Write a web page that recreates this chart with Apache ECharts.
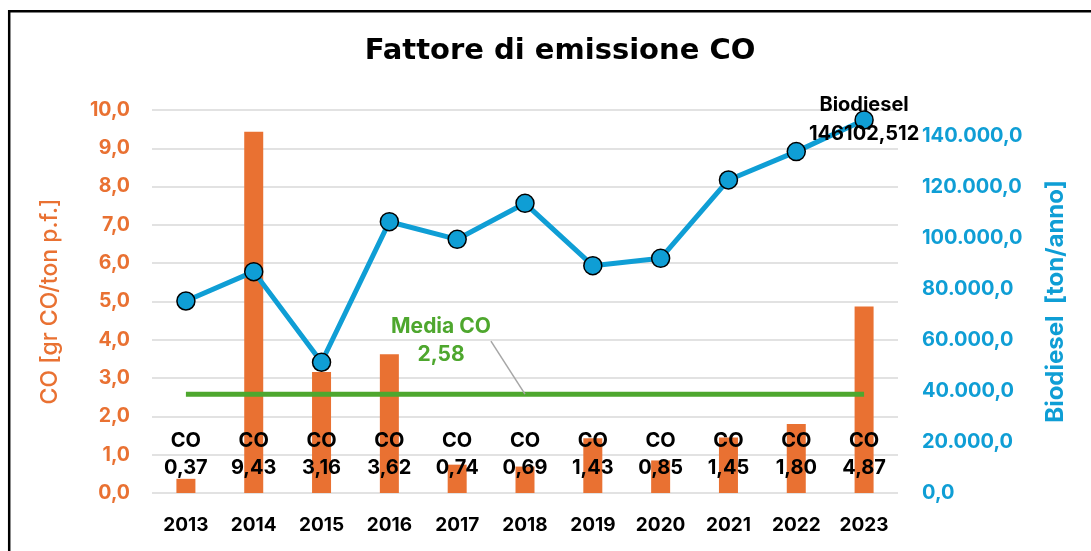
<!DOCTYPE html>
<html>
<head>
<meta charset="utf-8">
<script src="https://cdn.jsdelivr.net/npm/echarts@6/dist/echarts.min.js"></script>
<style>
html,body{margin:0;padding:0;background:#fff;}
#chart{width:1091px;height:551px;}
</style>
</head>
<body>
<div id="chart"></div>
<script>
// ---- data ----
const years = ['2013','2014','2015','2016','2017','2018','2019','2020','2021','2022','2023'];
const coValues = [0.37, 9.43, 3.16, 3.62, 0.74, 0.69, 1.43, 0.85, 1.45, 1.80, 4.87];
const biodiesel = [75200, 86700, 51200, 106250, 99360, 113460, 89020, 91900, 122600, 133700, 146102.512];
const meanCO = 2.58;
const meanLabelIndex = 5;

const FONT = 'Inter, "DejaVu Sans", sans-serif';
const TITLE_FONT = '"DejaVu Sans", sans-serif';
const ORANGE = '#E97132';
const BLUE = '#0F9ED5';
const GREEN = '#4EA72E';

function fmtLeft(v){ return v.toFixed(1).replace('.', ','); }
function fmtRight(v){
  if (v > 140000) return '';
  const s = Math.round(v).toString().replace(/\B(?=(\d{3})+(?!\d))/g, '.');
  return s + ',0';
}

const chart = echarts.init(document.getElementById('chart'));

const meanData = years.map((y, i) => {
  if (i === meanLabelIndex) {
    return {
      value: meanCO,
      label: {
        show: true,
        formatter: 'Media CO\n' + meanCO.toFixed(2).replace('.', ','),
        color: GREEN, fontFamily: FONT, fontWeight: 'bold', fontSize: 21, lineHeight: 28,
        position: 'inside'
      }
    };
  }
  return meanCO;
});

const bioData = biodiesel.map((v, i) => {
  if (i === biodiesel.length - 1) {
    return {
      value: v,
      label: {
        show: true, position: 'inside',
        formatter: 'Biodiesel\n' + String(v).replace('.', ','),
        color: '#000', fontFamily: FONT, fontWeight: 'bold', fontSize: 20, lineHeight: 29
      }
    };
  }
  return v;
});

chart.setOption({
  animation: false,
  backgroundColor: '#fff',
  title: {
    text: 'Fattore di emissione CO',
    left: 555, textAlign: 'center', top: 32,
    textStyle: { fontFamily: TITLE_FONT, fontWeight: 'bold', fontSize: 29, color: '#000' }
  },
  graphic: [{
    type: 'rect', silent: true, z: 100,
    shape: { x: 9.2, y: 11.3, width: 1300, height: 800 },
    style: { fill: 'none', stroke: '#000', lineWidth: 2.5 }
  }],
  grid: { left: 152, right: 193, top: 110, bottom: 58 },
  xAxis: {
    type: 'category', data: years,
    axisLine: { show: false }, axisTick: { show: false },
    axisLabel: { interval: 0, color: '#000', fontFamily: FONT, fontWeight: 'bold', fontSize: 19, margin: 23 }
  },
  yAxis: [{
    type: 'value', min: 0, max: 10, interval: 1,
    name: 'CO [gr CO/ton p.f.]', nameLocation: 'middle', nameGap: 90, nameRotate: 90,
    nameTextStyle: { color: ORANGE, fontFamily: FONT, fontWeight: 500, fontSize: 23 },
    axisLine: { show: false }, axisTick: { show: false },
    axisLabel: { color: ORANGE, fontFamily: FONT, fontWeight: 'bold', fontSize: 19.5, margin: 22, formatter: fmtLeft },
    splitLine: { lineStyle: { color: '#D9D9D9', width: 1.5 } }
  }, {
    type: 'value', min: 0, max: 150000, interval: 20000, position: 'right',
    name: 'Biodiesel  [ton/anno]', nameLocation: 'middle', nameGap: 146, nameRotate: 90,
    nameTextStyle: { color: BLUE, fontFamily: FONT, fontWeight: 'bold', fontSize: 24 },
    axisLine: { show: false }, axisTick: { show: false },
    axisLabel: { color: BLUE, fontFamily: FONT, fontWeight: 'bold', fontSize: 20, margin: 24, formatter: fmtRight },
    splitLine: { show: false }
  }],
  series: [{
    name: 'CO', type: 'bar', yAxisIndex: 0, data: coValues, barWidth: 19,
    itemStyle: { color: ORANGE },
    label: {
      show: true, position: 'insideBottom', distance: 12,
      formatter: p => 'CO\n' + p.value.toFixed(2).replace('.', ','),
      color: '#000', fontFamily: FONT, fontWeight: 'bold', fontSize: 20, lineHeight: 27
    },
    z: 2
  }, {
    name: 'Media CO', type: 'line', yAxisIndex: 0, data: meanData,
    symbol: 'circle', symbolSize: 0.1, showSymbol: true,
    lineStyle: { color: GREEN, width: 5 }, itemStyle: { color: GREEN },
    labelLayout: p => (p.dataIndex === meanLabelIndex ? { dx: -84, dy: -53 } : {}),
    labelLine: { show: true, lineStyle: { color: '#A6A6A6', width: 1.5 } },
    z: 3
  }, {
    name: 'Biodiesel', type: 'line', yAxisIndex: 1, data: bioData,
    symbol: 'circle', symbolSize: 18,
    lineStyle: { color: BLUE, width: 5 },
    itemStyle: { color: BLUE, borderColor: '#000', borderWidth: 1.5 },
    z: 4
  }]
});
</script>
</body>
</html>
